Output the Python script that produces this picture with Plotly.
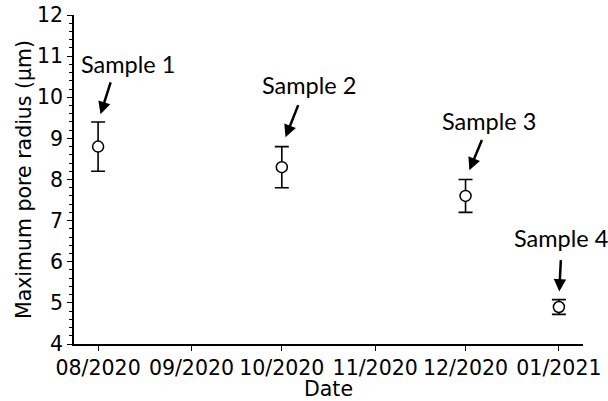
import plotly.graph_objects as go

dates = ["2020-08-01", "2020-10-01", "2020-12-01", "2021-01-01"]
values = [8.8, 8.3, 7.6, 4.9]
errors = [0.6, 0.5, 0.4, 0.18]
labels = ["Sample 1", "Sample 2", "Sample 3", "Sample 4"]

# label offsets (px) relative to top of error bar, arrow tail offsets
text_shift = [(30, -58), (27, -62), (23, -59), (2, -62)]
arrow_tail = [(13, -41), (17, -43), (17, -41), (2, -41)]
arrow_standoff = [8, 10, 10, 8]

AX_FONT = dict(family="DejaVu Sans", size=20.5, color="black")

fig = go.Figure()
fig.add_trace(go.Scatter(
    x=dates, y=values, mode="markers",
    marker=dict(symbol="circle", size=11, color="white",
                line=dict(color="black", width=1.5)),
    error_y=dict(type="data", array=errors, visible=True,
                 color="black", thickness=1.6, width=7),
    showlegend=False,
))

annotations = []
for d, v, e, lab, ts, at, so in zip(dates, values, errors, labels,
                                    text_shift, arrow_tail, arrow_standoff):
    top = v + e
    annotations.append(dict(x=d, y=top, xref="x", yref="y", text=lab,
                            showarrow=False, xshift=ts[0], yshift=-ts[1],
                            font=dict(family="Lato", size=23.5, color="black")))
    annotations.append(dict(x=d, y=top, xref="x", yref="y", text="",
                            showarrow=True, ax=at[0], ay=at[1],
                            arrowhead=2, arrowsize=1, arrowwidth=2.5,
                            arrowcolor="black", standoff=so))

fig.update_layout(
    width=608, height=401,
    margin=dict(l=74, r=25, t=15, b=57),
    paper_bgcolor="white", plot_bgcolor="white",
    font=AX_FONT,
    annotations=annotations,
    xaxis=dict(
        type="date", range=["2020-07-24", "2021-01-09"],
        tick0="2020-08-01", dtick="M1", tickformat="%m/%Y", tickangle=0,
        tickfont=AX_FONT, automargin=False,
        showline=True, linecolor="black", linewidth=1.5,
        ticks="outside", ticklen=5, tickwidth=1.2, tickcolor="black",
        showgrid=False, zeroline=False,
        title=dict(text="Date", standoff=12, font=AX_FONT),
    ),
    yaxis=dict(
        range=[4, 12], dtick=1, tick0=4,
        tickfont=AX_FONT, automargin=False,
        showline=True, linecolor="black", linewidth=1.5,
        ticks="outside", ticklen=5, tickwidth=1.2, tickcolor="black",
        minor=dict(dtick=0.2, ticks="outside", ticklen=3, tickwidth=1,
                   tickcolor="black", showgrid=False),
        showgrid=False, zeroline=False,
        title=dict(text="Maximum pore radius (μm)", standoff=0, font=AX_FONT),
    ),
)

fig.write_html("out.html")
